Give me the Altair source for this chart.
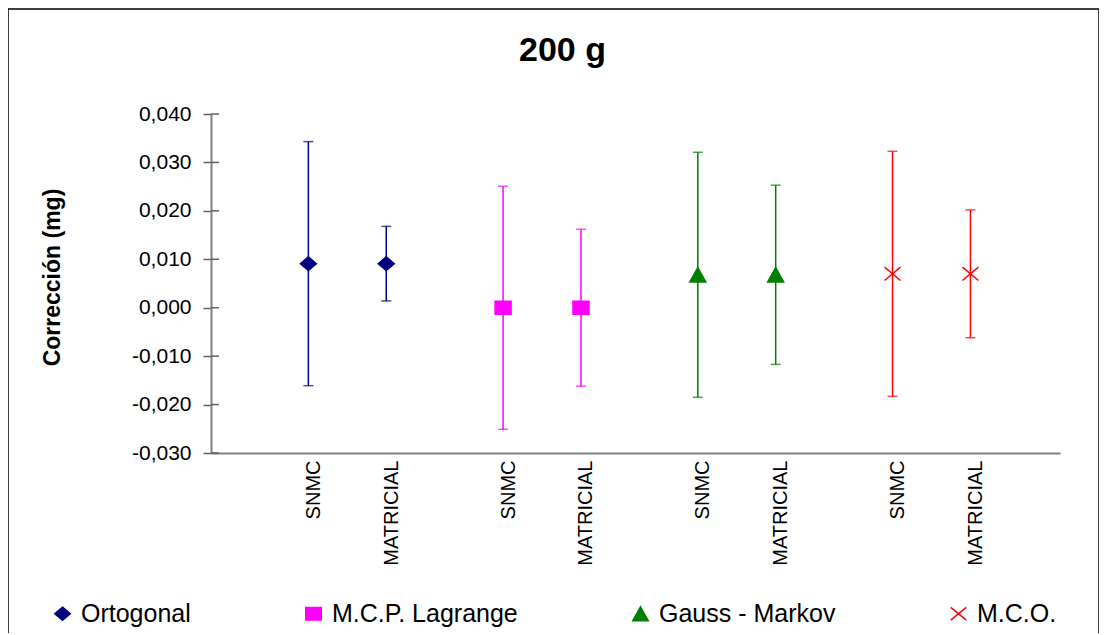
import altair as alt
import pandas as pd

# ---- data ----
methods = ["Ortogonal", "M.C.P. Lagrange", "Gauss - Markov", "M.C.O."]
colors = ["#000080", "#FF00FF", "#008000", "#FF0000"]
procedures = ["SNMC", "MATRICIAL"]
# correction (mg) for each method, per procedure [SNMC, MATRICIAL]
values = [[0.0091, 0.0091],
          [0.0000, 0.0000],
          [0.0068, 0.0068],
          [0.0070, 0.0070]]
# half width of the error bar (mg)
uncert = [[0.0252, 0.0077],
          [0.0251, 0.0162],
          [0.0253, 0.0185],
          [0.0253, 0.0132]]
y_ticks = [-0.03, -0.02, -0.01, 0.0, 0.01, 0.02, 0.03, 0.04]

# marker shapes (SVG paths, unit square)
shapes = [
    "M0,-0.85L1,0L0,0.85L-1,0Z",             # diamond
    "M-1,-0.82L1,-0.82L1,0.82L-1,0.82Z",      # square
    "M0,-0.9L1,0.9L-1,0.9Z",                  # triangle
    "M-1,-0.83L1,0.83M1,-0.83L-1,0.83",       # x
]

rows = []
for g, m in enumerate(methods):
    for j, p in enumerate(procedures):
        pos = 2.5 + 5 * g + 2 * j  # category slot (blank slots between groups)
        v = values[g][j]
        u = uncert[g][j]
        rows.append({"method": m, "procedure": p, "pos": pos,
                     "value": v, "low": v - u, "high": v + u})
df = pd.DataFrame(rows)

positions = list(df["pos"])
labels = list(df["procedure"])
label_expr = "{}[indexof({}, datum.value)]".format(
    "[" + ",".join("'%s'" % s for s in labels) + "]",
    "[" + ",".join(str(p) for p in positions) + "]")

FONT = "Liberation Sans"
GRAY = "#808080"

color_scale = alt.Scale(domain=methods, range=colors)
shape_scale = alt.Scale(domain=methods, range=shapes)

x_enc = alt.X("pos:Q",
              scale=alt.Scale(domain=[0, 21.8], nice=False, zero=False),
              axis=alt.Axis(values=positions, labelExpr=label_expr,
                            labelAngle=-90, ticks=False, grid=False,
                            domainColor=GRAY, domainWidth=2,
                            labelFont=FONT, labelFontSize=20,
                            labelColor="black", labelPadding=7,
                            labelOffset=5, title=None))

y_axis = alt.Axis(values=y_ticks,
                  labelExpr="replace(replace(format(datum.value, '.3f'), '.', ','), '\u2212', '-')",
                  grid=False, tickSize=8, tickColor="#606060", tickWidth=1.5,
                  domainColor=GRAY, domainWidth=2,
                  labelFont=FONT, labelFontSize=21, labelColor="black",
                  labelPadding=12,
                  title="Corrección (mg)", titleFont=FONT, titleFontSize=23,
                  titleFontWeight="bold", titleColor="black",
                  titleX=-159, titleY=163, titleAngle=-90,
                  titleAlign="center", titleBaseline="middle")
y_scale = alt.Scale(domain=[-0.03, 0.04], nice=False, zero=False)

base = alt.Chart(df)

bars = base.mark_rule(strokeWidth=1.5).encode(
    x=x_enc,
    y=alt.Y("low:Q", scale=y_scale, axis=y_axis),
    y2="high:Q",
    color=alt.Color("method:N", scale=color_scale, legend=None),
)

cap_lo = base.mark_tick(orient="horizontal", size=10, thickness=1.5).encode(
    x="pos:Q", y="low:Q",
    color=alt.Color("method:N", scale=color_scale, legend=None),
)
cap_hi = base.mark_tick(orient="horizontal", size=10, thickness=1.5).encode(
    x="pos:Q", y="high:Q",
    color=alt.Color("method:N", scale=color_scale, legend=None),
)

legend = alt.Legend(title=None, orient="none", legendX=-161, legendY=487,
                    direction="horizontal", columnPadding=110,
                    labelFont=FONT, labelFontSize=25, labelColor="black",
                    labelOffset=6, symbolSize=240, symbolStrokeWidth=1.5,
                    symbolOpacity=1, labelLimit=400)

points = base.mark_point(filled=True, size=256, strokeWidth=1.5, opacity=1).encode(
    x="pos:Q", y="value:Q",
    color=alt.Color("method:N", scale=color_scale, legend=legend),
    shape=alt.Shape("method:N", scale=shape_scale, legend=legend),
    stroke=alt.Stroke("method:N", scale=color_scale, legend=legend),
)

# crossing part of the y ticks (inside the plot)
tick_df = pd.DataFrame({"t": y_ticks})
inner_ticks = alt.Chart(tick_df).mark_rule(color="#606060", strokeWidth=1.5).encode(
    y="t:Q", x=alt.value(0), x2=alt.value(8))

# outer chart-area border
frame = alt.Chart(pd.DataFrame({"a": [0]})).mark_rect(
    filled=False, stroke="black", strokeWidth=1.5, clip=False).encode(
    x=alt.value(-203), x2=alt.value(888), y=alt.value(-105), y2=alt.value(700))

chart = alt.layer(frame, bars, cap_lo, cap_hi, inner_ticks, points).resolve_scale(
    color="independent", shape="independent", stroke="independent"
).properties(
    width=849, height=339,
    background="white",
    padding={"left": 203, "top": 106, "right": 39, "bottom": 180},
    autosize=alt.AutoSizeParams(type="none"),
    title=alt.TitleParams("200 g", font=FONT, fontSize=34, fontWeight="bold",
                          color="black", anchor="middle", dx=-73, offset=-87,
                          baseline="alphabetic"),
).configure_view(stroke=None)

chart.save("out.html", embed_options={"renderer": "svg", "actions": False})
